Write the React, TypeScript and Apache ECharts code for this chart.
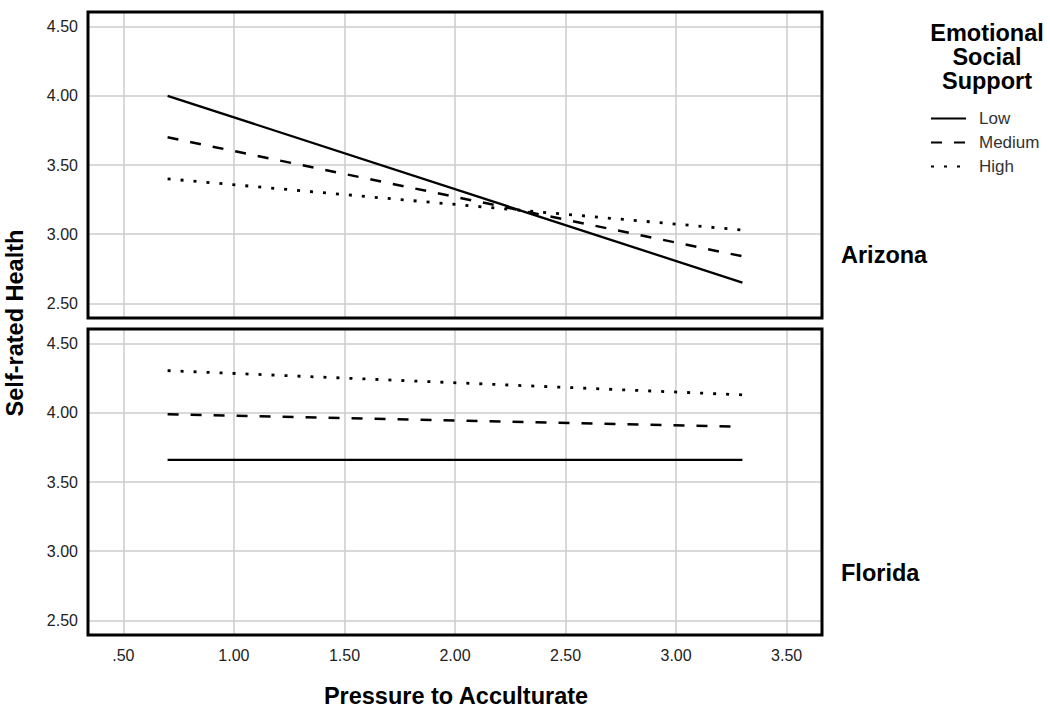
import React, { useEffect, useRef } from "react";
import * as echarts from "echarts";

const seriesNames = ["Low", "Medium", "High"];
const xPoints = [0.7, 3.3];
const arizonaLow = [4.0, 2.65];
const arizonaMedium = [3.7, 2.84];
const arizonaHigh = [3.4, 3.03];
const floridaLow = [3.66, 3.66];
const floridaMedium = [3.99, 3.9];
const floridaHigh = [4.305, 4.13];
const xTicks = [0.5, 1.0, 1.5, 2.0, 2.5, 3.0, 3.5];
const yTicks = [2.5, 3.0, 3.5, 4.0, 4.5];
const panelLabels = ["Arizona", "Florida"];

const FONT = "'Liberation Sans', Arial, Helvetica, sans-serif";
const TITLE_SIZE = 23.5;
const TICK_SIZE = 16;

export default function App() {
  const ref = useRef<HTMLDivElement>(null);
  useEffect(() => {
    if (!ref.current) return;
    const chart = echarts.init(ref.current, undefined, { renderer: "svg" });

    const L = 88, R = 822;
    const panels = [
      { top: 12, bottom: 318 },
      { top: 329, bottom: 635 },
    ];
    const styles: any[] = [
      { type: "solid", width: 2.3 },
      { type: [11, 12], width: 2.5 },
      { type: [3, 10], width: 2.8 },
    ];
    const data = [
      [arizonaLow, arizonaMedium, arizonaHigh],
      [floridaLow, floridaMedium, floridaHigh],
    ];

    const grid = panels.map((p) => ({
      left: L,
      width: R - L,
      top: p.top,
      height: p.bottom - p.top,
      show: false,
    }));

    const xAxis = panels.map((p, i) => ({
      type: "value",
      gridIndex: i,
      min: 0.34,
      max: 3.66,
      axisLine: { show: false },
      axisTick: { show: false },
      splitLine: { show: false },
      axisLabel: {
        show: i === 1,
        customValues: xTicks,
        margin: 12,
        fontSize: TICK_SIZE,
        color: "#222",
        fontFamily: FONT,
        formatter: (v: number) => v.toFixed(2).replace(/^0/, ""),
      },
    }));

    const yAxis = panels.map((p, i) => ({
      type: "value",
      gridIndex: i,
      min: 2.394,
      max: 4.606,
      axisLine: { show: false },
      axisTick: { show: false },
      splitLine: { show: false },
      axisLabel: {
        customValues: yTicks,
        margin: 10,
        fontSize: TICK_SIZE,
        color: "#222",
        fontFamily: FONT,
        formatter: (v: number) => v.toFixed(2),
      },
    }));

    const series: any[] = [];
    panels.forEach((p, i) => {
      series.push({
        name: "grid" + i,
        type: "line",
        xAxisIndex: i,
        yAxisIndex: i,
        data: [],
        silent: true,
        markLine: {
          silent: true,
          symbol: "none",
          z: 1,
          label: { show: false },
          lineStyle: { color: "#cccccc", width: 1.5, type: "solid" },
          data: [
            ...xTicks.map((v) => ({ xAxis: v })),
            ...yTicks.map((v) => ({ yAxis: v })),
          ],
        },
      });
      seriesNames.forEach((name, k) => {
        series.push({
          name,
          type: "line",
          xAxisIndex: i,
          yAxisIndex: i,
          symbol: "none",
          z: 3,
          lineStyle: { color: "#000", ...styles[k] },
          itemStyle: { color: "#000" },
          data: xPoints.map((x, j) => [x, data[i][k][j]]),
        });
      });
    });

    const boldText = (text: string, x: number, y: number, extra: any = {}) => ({
      type: "text",
      x,
      y,
      z: 100,
      silent: true,
      ...extra,
      style: {
        text,
        fontSize: TITLE_SIZE,
        fontWeight: "bold",
        fontFamily: FONT,
        fill: "#000",
        align: "center",
        verticalAlign: "middle",
        ...(extra.style || {}),
      },
    });

    const graphic: any[] = [
      ...panels.map((p) => ({
        type: "rect",
        z: 100,
        silent: true,
        shape: { x: L, y: p.top, width: R - L, height: p.bottom - p.top },
        style: { fill: "none", stroke: "#000", lineWidth: 3 },
      })),
      boldText("Emotional\nSocial\nSupport", 987, 21, {
        style: { verticalAlign: "top", lineHeight: 24 },
      }),
      ...panelLabels.map((t, i) =>
        boldText(t, 841, i === 0 ? 255 : 573, { style: { align: "left" } })
      ),
      boldText("Pressure to Acculturate", 456, 696),
      boldText("Self-rated Health", 15, 323, { rotation: Math.PI / 2 }),
    ];

    chart.setOption({
      animation: false,
      backgroundColor: "#fff",
      grid,
      xAxis,
      yAxis,
      series,
      graphic,
      legend: {
        data: seriesNames,
        orient: "vertical",
        left: 925,
        top: 105,
        itemWidth: 35,
        itemHeight: 14,
        itemGap: 7,
        selectedMode: false,
        itemStyle: { opacity: 0 },
        textStyle: {
          fontSize: 17,
          color: "#333",
          fontFamily: FONT,
          padding: [0, 0, 0, 8],
        },
      },
    });
    return () => chart.dispose();
  }, []);
  return <div ref={ref} style={{ width: 1050, height: 714, position: "absolute", left: 0, top: 0 }} />;
}
